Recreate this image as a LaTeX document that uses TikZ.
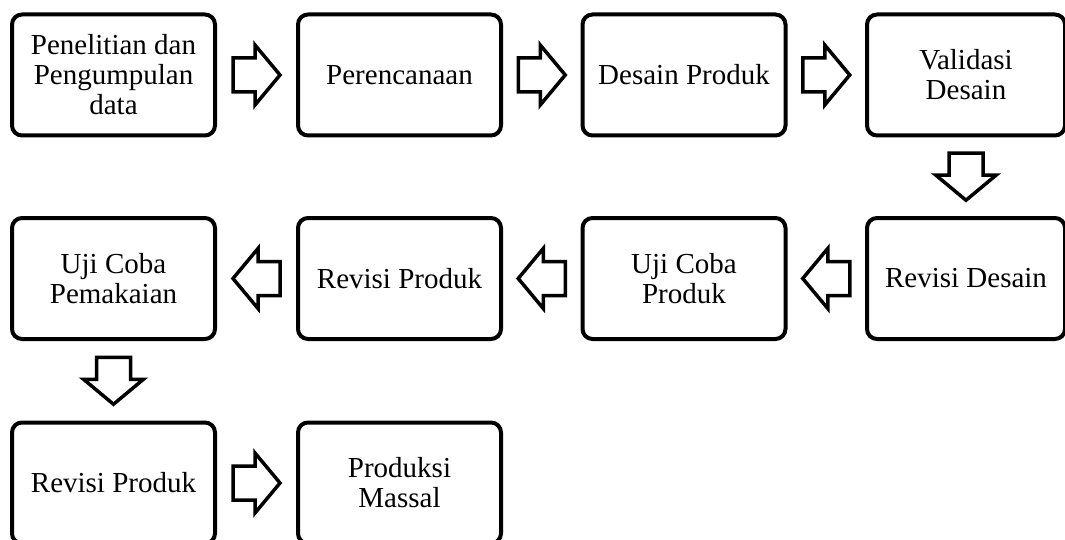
\documentclass[tikz,border=0pt]{standalone}
\usepackage{fontspec}
\setmainfont{Liberation Serif}
\usetikzlibrary{calc}
\tikzset{
  box/.style={draw=black, line width=4pt, rounded corners=10pt, fill=white,
    minimum width=203pt, minimum height=121pt, align=center, inner sep=0pt,
    font=\fontsize{29}{30}\selectfont},
  arrowline/.style={draw=black, line width=3.5pt, line join=miter, fill=white},
  blockarrow/.pic={\draw[arrowline] (-23.5,-17) -- (-1.5,-17) -- (-1.5,-30) -- (23.5,0) -- (-1.5,30) -- (-1.5,17) -- (-23.5,17) -- cycle;}
}
\begin{document}
\begin{tikzpicture}[x=1pt,y=-1pt]
\useasboundingbox (0,0) rectangle (1065,540);
% row 1
\node[box] (a1) at (113.5,75) {Penelitian dan\\Pengumpulan\\data};
\node[box] (a2) at (399.5,75) {Perencanaan};
\node[box] (a3) at (684,75) {Desain Produk};
\node[box, minimum width=198pt] (a4) at (966,75) {Validasi\\Desain};
% row 2
\node[box] (b1) at (113.5,278.5) {Uji Coba\\Pemakaian};
\node[box] (b2) at (399.5,278.5) {Revisi Produk};
\node[box] (b3) at (684,278.5) {Uji Coba\\Produk};
\node[box, minimum width=198pt] (b4) at (966,278.5) {Revisi Desain};
% row 3
\node[box] (c1) at (113.5,483) {Revisi Produk};
\node[box] (c2) at (399.5,483) {Produksi\\Massal};
% connectors
\pic at ($(a1.east)!0.5!(a2.west)$) {blockarrow};
\pic at ($(a2.east)!0.5!(a3.west)$) {blockarrow};
\pic at ($(a3.east)!0.5!(a4.west)$) {blockarrow};
\pic[rotate=-90] at ($(a4.south)!0.5!(b4.north)$) {blockarrow};
\pic[rotate=180] at ($(b4.west)!0.5!(b3.east)$) {blockarrow};
\pic[rotate=180] at ($(b3.west)!0.5!(b2.east)$) {blockarrow};
\pic[rotate=180] at ($(b2.west)!0.5!(b1.east)$) {blockarrow};
\pic[rotate=-90] at ($(b1.south)!0.5!(c1.north)$) {blockarrow};
\pic at ($(c1.east)!0.5!(c2.west)$) {blockarrow};
\end{tikzpicture}
\end{document}
